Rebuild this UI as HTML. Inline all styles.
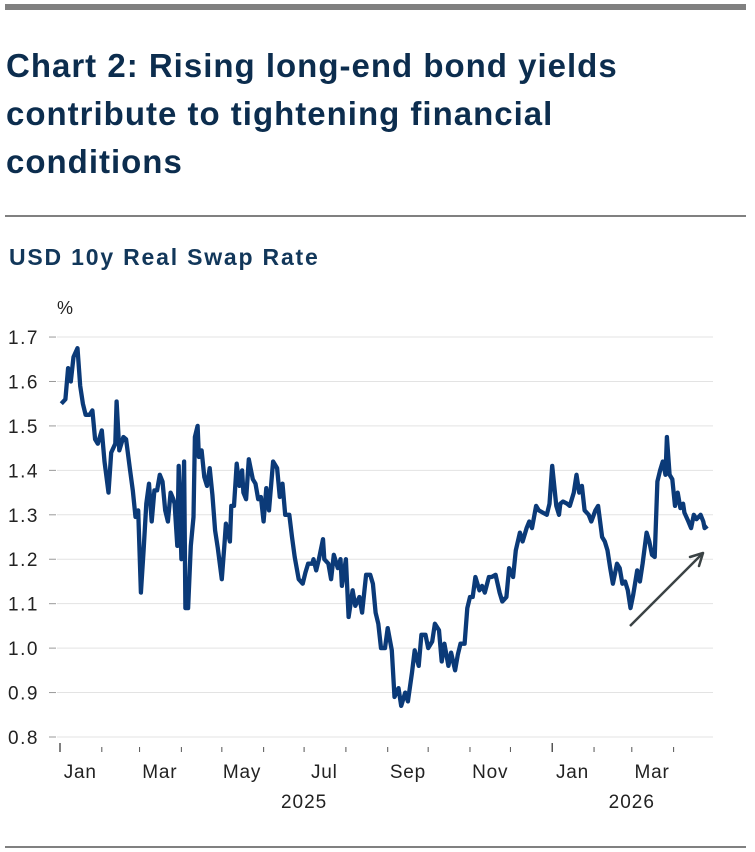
<!DOCTYPE html>
<html><head><meta charset="utf-8"><style>
body{margin:0;width:755px;height:852px;background:#fff;font-family:"Liberation Sans",sans-serif;overflow:hidden;position:relative}
.topbar{position:absolute;left:5px;top:4px;width:741px;height:6px;background:#808080}
.title{position:absolute;left:6px;top:42px;font-size:33px;font-weight:bold;line-height:48px;color:#0c2d4e;letter-spacing:1px}
.div{position:absolute;left:5px;top:215px;width:741px;height:2px;background:#808080}
.sub{position:absolute;left:9px;top:244px;font-size:23px;font-weight:bold;color:#12375a;letter-spacing:1.8px}
.bot{position:absolute;left:5px;top:846px;width:741px;height:2px;background:#808080}
svg{position:absolute;left:0;top:0}
</style></head><body>
<div class="topbar"></div>
<div class="title">Chart 2: Rising long-end bond yields<br>contribute to tightening financial<br>conditions</div>
<div class="div"></div>
<div class="sub">USD 10y Real Swap Rate</div>
<div class="bot"></div>
<svg id="chart" width="755" height="852"></svg>
<script>
const days=[1,4,6,8,10,13,15,17,19,22,24,26,28,31,33,36,38,41,42,44,47,49,52,54,56,58,60,62,64,66,68,70,72,74,76,78,80,82,84,85,87,88,90,92,93,95,97,99,100,102,103,105,107,109,111,113,115,117,120,122,123,126,127,129,131,133,135,136,138,140,143,145,147,149,151,153,155,158,161,163,165,167,170,172,174,177,180,182,184,187,188,190,192,195,196,199,201,203,206,208,209,212,214,217,219,222,224,227,230,232,234,236,238,241,243,246,248,251,253,256,258,261,263,266,268,271,273,276,278,281,283,285,288,290,293,295,297,300,302,304,306,308,311,313,315,318,320,323,326,328,331,333,336,338,341,343,346,348,350,353,355,358,361,363,365,368,370,371,373,376,378,381,383,385,387,389,392,394,397,399,402,404,406,408,410,413,415,417,419,421,423,425,428,430,432,435,437,439,441,443,445,447,449,450,452,454,456,458,460,462,463,466,468,470,472,475,477,478,480];
const values=[1.55,1.56,1.63,1.60,1.655,1.675,1.59,1.55,1.525,1.525,1.535,1.47,1.46,1.49,1.42,1.35,1.44,1.46,1.555,1.445,1.475,1.47,1.40,1.355,1.295,1.31,1.125,1.22,1.325,1.37,1.285,1.355,1.355,1.39,1.375,1.31,1.285,1.35,1.335,1.325,1.23,1.41,1.20,1.42,1.09,1.09,1.23,1.295,1.475,1.50,1.43,1.445,1.385,1.365,1.405,1.345,1.265,1.225,1.155,1.235,1.28,1.24,1.32,1.32,1.415,1.365,1.40,1.35,1.335,1.425,1.38,1.37,1.335,1.34,1.285,1.36,1.31,1.42,1.405,1.34,1.37,1.30,1.30,1.25,1.205,1.155,1.145,1.17,1.19,1.19,1.20,1.175,1.20,1.245,1.20,1.19,1.155,1.21,1.18,1.20,1.14,1.20,1.07,1.13,1.095,1.115,1.08,1.165,1.165,1.145,1.08,1.055,1.00,1.00,1.045,0.995,0.89,0.91,0.87,0.90,0.88,0.945,0.995,0.96,1.03,1.03,1.00,1.015,1.055,1.04,0.97,1.01,0.96,0.99,0.95,0.985,1.01,1.01,1.09,1.115,1.115,1.16,1.13,1.14,1.125,1.16,1.16,1.165,1.125,1.105,1.115,1.18,1.16,1.22,1.26,1.24,1.27,1.285,1.27,1.32,1.31,1.305,1.30,1.325,1.41,1.32,1.30,1.325,1.33,1.325,1.32,1.35,1.39,1.35,1.365,1.31,1.30,1.285,1.31,1.32,1.25,1.24,1.22,1.18,1.145,1.19,1.18,1.145,1.15,1.13,1.09,1.12,1.175,1.15,1.19,1.26,1.24,1.21,1.205,1.375,1.40,1.42,1.39,1.475,1.39,1.38,1.32,1.35,1.315,1.325,1.305,1.285,1.27,1.30,1.29,1.30,1.285,1.27,1.275];
const yTicks=[0.8,0.9,1.0,1.1,1.2,1.3,1.4,1.5,1.6,1.7];
const monthStarts=[0,31,59,90,120,151,181,212,243,273,304,334,365,396,424,455];
const monthLabels=["Jan","Mar","May","Jul","Sep","Nov","Jan","Mar"];
const monthLabelDays=[15,74,135,196,258,319,380,439];
const yearLabels=["2025","2026"];
const yearLabelDays=[181,424];

const NS="http://www.w3.org/2000/svg";
const svg=document.getElementById('chart');
const x=d=>60+d*1.3486;
const y=v=>737-(v-0.8)*444.4;
function mk(tag,attrs,parent){const e=document.createElementNS(NS,tag);for(const k in attrs)e.setAttribute(k,attrs[k]);(parent||svg).appendChild(e);return e;}

yTicks.forEach(v=>{
  const g=mk('line',{x1:57,x2:713,y1:y(v),y2:y(v),stroke:'#e3e3e3','stroke-width':1});
  
  
  const t=mk('line',{x1:49,x2:56,y1:y(v),y2:y(v),stroke:'#999','stroke-width':1});
  
  
  const l=mk('text',{x:8,y:y(v)+7,'font-size':19,fill:'#222','letter-spacing':'1.5px'});
  l.textContent=v.toFixed(1);
  
  
});
const pct=mk('text',{x:57,y:314,'font-size':18,fill:'#222'});
pct.textContent='%';



monthStarts.forEach((d,i)=>{
  const major=(d===0||d===365);
  const t=mk('line',{x1:x(d),x2:x(d),y1:major?743:747,y2:752,stroke:'#555','stroke-width':major?1.5:1});
  
  
});
monthLabels.forEach((m,i)=>{
  const t=mk('text',{x:x(monthLabelDays[i]),y:778,'font-size':19,fill:'#222','text-anchor':'middle','letter-spacing':'0.8px'});
  t.textContent=m;
  
  
});
yearLabels.forEach((yr,i)=>{
  const t=mk('text',{x:x(yearLabelDays[i]),y:808,'font-size':19,fill:'#222','text-anchor':'middle','letter-spacing':'1px'});
  t.textContent=yr;
  
  
});

const path=mk('path',{d:days.map((d,i)=>(i?'L':'M')+x(d).toFixed(1)+' '+y(values[i]).toFixed(1)).join(' '),fill:'none',stroke:'#0b3a78','stroke-width':4.3,'stroke-linejoin':'round'});



const ar=mk('g',{});


mk('line',{x1:630,y1:626,x2:701,y2:555,stroke:'#3b4345','stroke-width':2.5},ar);
mk('path',{d:'M703 553 L690 557 M703 553 L699 566',stroke:'#3b4345','stroke-width':2.5,fill:'none','stroke-linecap':'round'},ar);
</script>
</body></html>
